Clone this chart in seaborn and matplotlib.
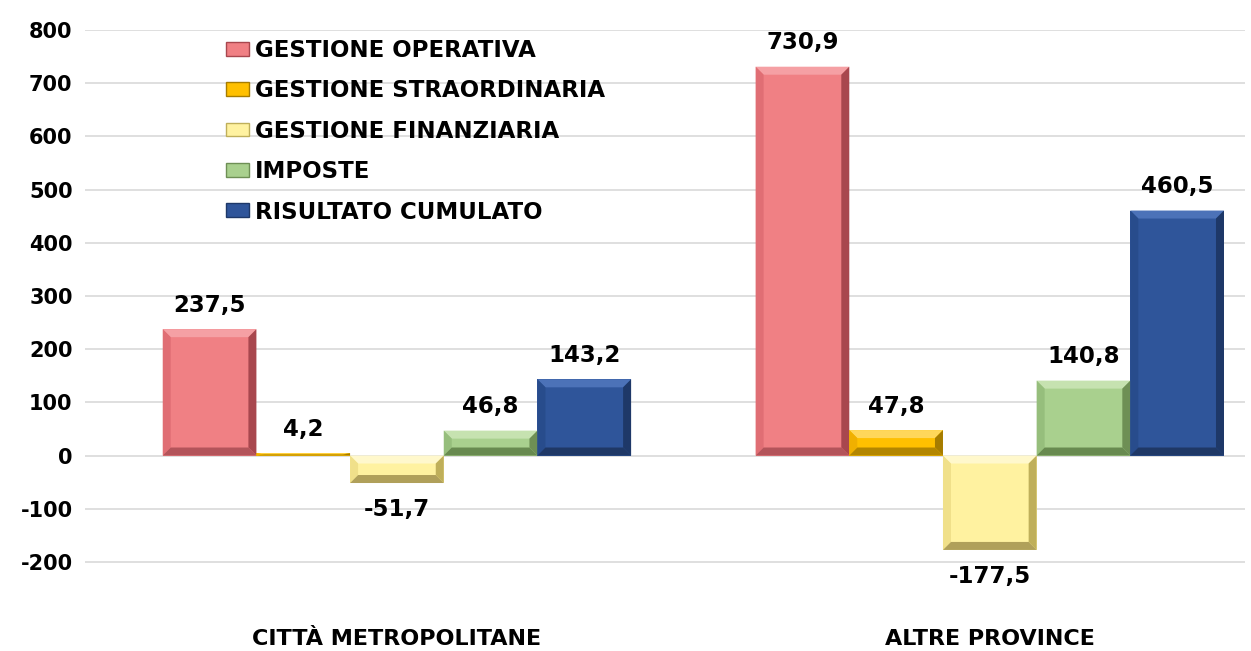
import pandas as pd
import matplotlib.pyplot as plt
import seaborn as sns
from matplotlib.patches import Polygon, Patch

# Dati
categorie = ["CITTÀ METROPOLITANE", "ALTRE PROVINCE"]
voci = ["GESTIONE OPERATIVA", "GESTIONE STRAORDINARIA", "GESTIONE FINANZIARIA",
        "IMPOSTE", "RISULTATO CUMULATO"]
citta = [237.5, 4.2, -51.7, 46.8, 143.2]
altre = [730.9, 47.8, -177.5, 140.8, 460.5]

# Colori: faccia, bordo alto, sinistra, destra, basso
facce = ["#F08084", "#FFC000", "#FFF2A0", "#A9D08E", "#2F559A"]
alto = ["#F5A0A4", "#FFD75A", "#FFF8CC", "#C6E2B0", "#4C72B8"]
sinistra = ["#E06E74", "#F0B000", "#F0E08A", "#96BE7C", "#284C8C"]
destra = ["#A8474E", "#A67C00", "#BFAF5A", "#6E8F55", "#1E3868"]
basso = ["#B3545A", "#B38600", "#B0A05A", "#688A50", "#1F3866"]

df = pd.DataFrame({
    "categoria": [c for c in categorie for _ in voci],
    "voce": voci * 2,
    "valore": citta + altre,
})

plt.rcParams["font.family"] = ["DejaVu Sans"]
plt.rcParams["axes.unicode_minus"] = False
fig, ax = plt.subplots(figsize=(12.51, 6.51), dpi=100)
fig.subplots_adjust(left=0.068, right=0.995, top=0.954, bottom=0.096)

sns.barplot(data=df, x="categoria", y="valore", hue="voce", order=categorie,
            hue_order=voci, palette=facce, saturation=1, width=0.79, ax=ax,
            legend=False, linewidth=0, zorder=2)

ax.set_xlim(-0.526, 1.43)
ax.set_ylim(-250, 800)
ax.set_yticks(range(-200, 801, 100))
ax.yaxis.grid(True, color="#D9D9D9", linewidth=1.2, zorder=0)
ax.set_axisbelow(True)
for s in ax.spines.values():
    s.set_visible(False)
ax.set_xlabel("")
ax.set_ylabel("")
ax.tick_params(axis="y", length=0, labelsize=15, pad=9)
ax.tick_params(axis="x", length=0, labelsize=16, pad=29)
for t in ax.get_yticklabels() + ax.get_xticklabels():
    t.set_fontweight("bold")

# effetto smussato sui bordi delle barre
bbox = ax.get_position()
W = fig.get_figwidth() * fig.dpi * bbox.width
H = fig.get_figheight() * fig.dpi * bbox.height
xl, yl = ax.get_xlim(), ax.get_ylim()
ux = 8 * (xl[1] - xl[0]) / W
uy = 8 * (yl[1] - yl[0]) / H

for i, cont in enumerate(ax.containers):
    for bar in cont:
        x0, w = bar.get_x(), bar.get_width()
        y0, h = bar.get_y(), bar.get_height()
        x1 = x0 + w
        lo, hi = min(y0, y0 + h), max(y0, y0 + h)
        by = min(uy, (hi - lo) / 2)
        bx = min(ux, w / 2)
        ix0, ix1, ilo, ihi = x0 + bx, x1 - bx, lo + by, hi - by
        pezzi = [
            ([(x0, hi), (x1, hi), (ix1, ihi), (ix0, ihi)], alto[i]),
            ([(x0, lo), (x0, hi), (ix0, ihi), (ix0, ilo)], sinistra[i]),
            ([(x1, lo), (x1, hi), (ix1, ihi), (ix1, ilo)], destra[i]),
            ([(x0, lo), (x1, lo), (ix1, ilo), (ix0, ilo)], basso[i]),
        ]
        for pts, col in pezzi:
            ax.add_patch(Polygon(pts, closed=True, facecolor=col,
                                 edgecolor="none", zorder=3))
        val = bar.get_height()
        testo = f"{val:.1f}".replace(".", ",")
        if val >= 0:
            ax.annotate(testo, (x0 + w / 2, hi), xytext=(0, 9),
                        textcoords="offset points", ha="center", va="bottom",
                        fontsize=16.5, fontweight="bold", color="black")
        else:
            ax.annotate(testo, (x0 + w / 2, lo), xytext=(0, -11),
                        textcoords="offset points", ha="center", va="top",
                        fontsize=16.5, fontweight="bold", color="black")

handles = [Patch(facecolor=c, edgecolor=d, linewidth=1) for c, d in zip(facce, destra)]
leg = ax.legend(handles, voci, loc="upper left", bbox_to_anchor=(0.104, 1.021),
                frameon=False, prop={"weight": "bold", "size": 16.5},
                handlelength=1.0, handleheight=0.55, handletextpad=0.25,
                labelspacing=0.76)

plt.savefig("out.png", dpi=100)
